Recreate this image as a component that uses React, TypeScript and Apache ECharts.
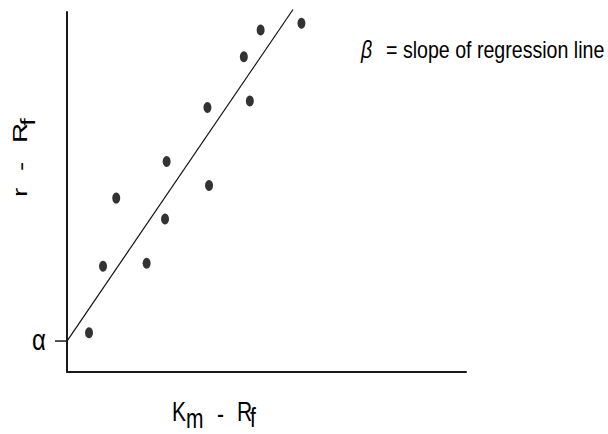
import React, { useEffect, useRef } from "react";
import * as echarts from "echarts";

// Excess market return (Km - Rf) and excess asset return (r - Rf), arbitrary units
const excessMarket = [5.5, 9.0, 12.3, 19.9, 24.5, 24.9, 35.5, 35.1, 45.7, 44.2, 48.4, 58.6];
const excessAsset = [10.9, 29.4, 48.3, 30.2, 42.5, 58.5, 51.8, 73.5, 75.3, 87.6, 95.0, 96.9];

// Regression line: intercept alpha, slope beta
const ALPHA = 8.6;
const BETA = 1.63;
const lineXRange = [0, 56.5];

const FONT = "'Liberation Sans', Arial, sans-serif";

export default function App() {
  const ref = useRef<HTMLDivElement>(null);

  useEffect(() => {
    if (!ref.current) return;
    const chart = echarts.init(ref.current, undefined, { renderer: "svg" });

    const points = excessMarket.map((x, i) => [x, excessAsset[i]]);
    const linePts = lineXRange.map((x) => [x, ALPHA + BETA * x]);

    chart.setOption({
      animation: false,
      backgroundColor: "#ffffff",
      grid: { left: 67, top: 12, width: 399, bottom: 62 },
      xAxis: {
        type: "value",
        min: 0,
        max: 99.75,
        axisLine: { show: true, onZero: false, lineStyle: { color: "#1a1a1a", width: 2 } },
        axisTick: { show: false },
        axisLabel: { show: false },
        splitLine: { show: false },
      },
      yAxis: {
        type: "value",
        min: 0,
        max: 100,
        axisLine: { show: true, onZero: false, lineStyle: { color: "#1a1a1a", width: 2 } },
        axisTick: { show: false },
        axisLabel: { show: false },
        splitLine: { show: false },
      },
      series: [
        {
          type: "line",
          data: linePts,
          clip: false,
          symbol: "none",
          lineStyle: { color: "#111", width: 1.2 },
          silent: true,
        },
        {
          type: "scatter",
          data: points,
          symbol: "circle",
          symbolSize: [8, 11],
          itemStyle: { color: "#000" },
        },
      ],
    });

    const [ax, ay] = chart.convertToPixel({ xAxisIndex: 0, yAxisIndex: 0 }, [0, ALPHA]) as number[];

    const txt = (
      text: string,
      x: number,
      y: number,
      fontSize: number,
      opts: any = {}
    ) => ({
      type: "text",
      x,
      y,
      scaleX: opts.scaleX ?? 1,
      scaleY: opts.scaleY ?? 1,
      rotation: opts.rotation ?? 0,
      style: {
        text,
        fontSize,
        fontFamily: FONT,
        fontStyle: opts.fontStyle ?? "normal",
        fill: "#000",
        align: opts.align ?? "left",
        verticalAlign: "middle",
      },
      silent: true,
    });

    const ySc = 1.33;
    const rot = Math.PI / 2;

    chart.setOption({
      graphic: [
        // alpha tick + label at the intercept
        {
          type: "line",
          shape: { x1: ax - 12, y1: ay, x2: ax, y2: ay },
          style: { stroke: "#1a1a1a", lineWidth: 1.5 },
          silent: true,
        },
        txt("α", ax - 21, ay - 0.5, 24, { align: "right", scaleY: 1.2 }),
        // x-axis title: Km - Rf
        txt("K", 172, 411, 21, { scaleY: ySc }),
        txt("m", 186, 418, 21, { scaleY: ySc }),
        txt("-", 217, 413, 21, { scaleY: ySc }),
        txt("R", 237, 411, 21, { scaleY: ySc }),
        txt("f", 250, 417, 21, { scaleY: ySc }),
        // y-axis title: r - Rf (rotated)
        txt("r", 20, 197, 21, { rotation: rot, scaleX: ySc }),
        txt("-", 21, 171, 21, { rotation: rot, scaleX: ySc }),
        txt("R", 20, 143, 21, { rotation: rot, scaleX: ySc }),
        txt("f", 28, 126, 21, { rotation: rot, scaleX: ySc }),
        // annotation
        txt("β", 361, 50, 19.6, { scaleY: 1.19, fontStyle: "italic" }),
        txt("= slope of regression line", 386, 50, 19.6, { scaleY: 1.19 }),
      ],
    });

    return () => chart.dispose();
  }, []);

  return (
    <div
      ref={ref}
      style={{ position: "fixed", left: 0, top: 0, width: 608, height: 434, background: "#fff" }}
    />
  );
}
